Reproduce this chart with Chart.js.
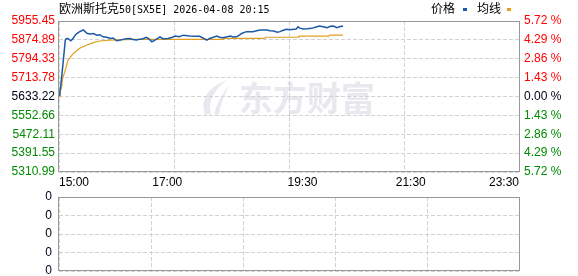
<!DOCTYPE html>
<html><head><meta charset="utf-8">
<script src="https://cdn.jsdelivr.net/npm/chart.js@4.4.1/dist/chart.umd.min.js"></script>
<style>
html,body{margin:0;padding:0;background:#fff;}
#wrap{position:relative;width:578px;height:276px;overflow:hidden;background:#fff;}
#title{position:absolute;left:59px;top:1px;font-size:12px;line-height:14px;white-space:nowrap;color:#000;}
.cjk{font-family:"Noto Sans CJK SC";font-size:12px;}
.mono{font-family:"DejaVu Sans Mono";font-size:10px;}
.lg{position:absolute;top:1px;font-family:"Noto Sans CJK SC";font-size:12px;line-height:14px;color:#000;}
.mk{position:absolute;top:8px;width:4px;height:3px;}
#c1{position:absolute;left:0;top:0;}
#c2{position:absolute;left:0;top:190px;}
</style>
</head><body>
<div id="wrap">
  <canvas id="c1" width="578" height="190"></canvas>
  <canvas id="c2" width="578" height="86"></canvas>
  <div id="title"><span class="cjk">欧洲斯托克</span><span class="mono">50[SX5E] 2026-04-08 20:15</span></div>
  <div class="lg" style="left:431px">价格</div>
  <div class="mk" style="left:463px;background:#1a5aa8"></div>
  <div class="lg" style="left:477px">均线</div>
  <div class="mk" style="left:507px;background:#e0a020"></div>
</div>
<script>
// ---- data ----
const xTickMinutes = [0, 120, 270, 390, 510];
const xTickLabels = ['15:00', '17:00', '19:30', '21:30', '23:30'];
const gridMinutes = [0, 127.5, 255, 382.5, 510];
const prevClose = 5633.22;
const priceTicks = [5310.99, 5391.55, 5472.11, 5552.66, 5633.22, 5713.78, 5794.33, 5874.89, 5955.45];
const pctTicks = ['5.72', '4.29', '2.86', '1.43', '0.00', '1.43', '2.86', '4.29', '5.72'];
const volumeTicks = ['0', '0', '0', '0', '0'];

const priceMinutes = [0,1,3,5,7,8,10,13,15,18,20,23,27,31,34,38,42,45,49,53,57,60,64,68,71,74,79,82,86,90,93,97,100,103,106,112,115,121,125,129,133,138,142,145,151,156,164,167,175,178,182,190,193,197,203,208,215,218,223,230,234,238,242,245,248,252,256,263,265,267,271,275,280,285,289,294,297,302,305,308,312,315];
const priceValues = [5640,5650,5717,5796,5874,5880,5881,5871,5878,5895,5903,5910,5917,5903,5900,5902,5895,5897,5888,5886,5881,5883,5871,5874,5877,5880,5881,5876,5874,5878,5880,5886,5878,5867,5873,5888,5880,5881,5885,5891,5888,5895,5893,5891,5890,5890,5874,5881,5891,5886,5884,5891,5887,5888,5903,5910,5910,5913,5917,5917,5914,5913,5908,5910,5915,5920,5918,5921,5931,5925,5921,5922,5924,5930,5934,5930,5927,5934,5933,5927,5932,5934];

const avgMinutes = [0,1,3,4,7,10,16,23,31,38,45,56,82,182,183,228,229,265,266,299,300,315];
const avgValues = [5632,5650,5674,5710,5746,5789,5817,5839,5853,5863,5870,5874,5877,5877,5881,5881,5886,5886,5891,5891,5895,5895];

// ---- helpers ----
const toPts = (xs, ys) => xs.map((x, i) => ({x: x, y: ys[i]}));
const FONT = {family: '"Liberation Sans", Arial, sans-serif', size: 12};
const GRID = '#d2d2d2';
const FRAME = '#999999';
const RED = '#ff0000', GREEN = '#008a00', DARK = '#00001a';
const colorFor = (v) => v > prevClose + 0.01 ? RED : (v < prevClose - 0.01 ? GREEN : DARK);
const noPad = (s) => { s.paddingTop = 0; s.paddingBottom = 0; };

const framePlugin = {
  id: 'frame',
  afterDraw(chart) {
    const a = chart.chartArea, ctx = chart.ctx;
    ctx.save();
    ctx.strokeStyle = FRAME; ctx.lineWidth = 1; ctx.setLineDash([]);
    ctx.strokeRect(Math.round(a.left) - 0.5, Math.round(a.top) + 0.5, Math.round(a.right - a.left) + 1, Math.round(a.bottom - a.top) - 1);
    ctx.restore();
  }
};

const watermarkPlugin = {
  id: 'wm',
  beforeDraw(chart) {
    const ctx = chart.ctx;
    ctx.save();
    ctx.fillStyle = '#e8e8ee';
    ctx.font = 'bold 34px "Noto Sans CJK SC"';
    ctx.textBaseline = 'middle';
    ctx.fillText('东方财富', 239, 98);
    ctx.beginPath();
    ctx.moveTo(227, 80);
    ctx.quadraticCurveTo(197, 92, 205, 115);
    ctx.lineTo(211, 114);
    ctx.quadraticCurveTo(206, 96, 227, 80);
    ctx.closePath();
    ctx.fill();
    ctx.beginPath();
    ctx.moveTo(230, 84);
    ctx.quadraticCurveTo(217, 100, 214, 115);
    ctx.lineTo(219, 114);
    ctx.quadraticCurveTo(221, 100, 230, 84);
    ctx.closePath();
    ctx.fill();
    ctx.restore();
  }
};

const makeGridAxis = (pos) => ({
  type: 'linear', min: 0, max: 510, position: pos,
  afterBuildTicks: (s) => { s.ticks = gridMinutes.map(v => ({value: v})); },
  afterFit: (s) => { s.height = 0; s.paddingLeft = 0; s.paddingRight = 0; },
  ticks: {display: false},
  grid: {color: GRID, drawTicks: false, lineWidth: 1},
  border: {display: false, dash: [4, 2]}
});

// ---- top chart ----
new Chart(document.getElementById('c1'), {
  type: 'line',
  data: {
    datasets: [
      {label: '价格', data: toPts(priceMinutes, priceValues), borderColor: '#1a5aa8', borderWidth: 1.5, pointRadius: 0, tension: 0, yAxisID: 'y'},
      {label: '均线', data: toPts(avgMinutes, avgValues), borderColor: '#e0a020', borderWidth: 1.2, pointRadius: 0, tension: 0, yAxisID: 'y'}
    ]
  },
  options: {
    responsive: false, animation: false, devicePixelRatio: 1,
    layout: {padding: {top: 21, left: 0, right: 0, bottom: 0}},
    plugins: {legend: {display: false}, tooltip: {enabled: false}},
    scales: {
      x: {
        type: 'linear', min: 0, max: 510, position: 'bottom',
        afterBuildTicks: (s) => { s.ticks = xTickMinutes.map(v => ({value: v})); },
        afterFit: (s) => { s.height = 18; s.paddingLeft = 0; s.paddingRight = 0; },
        ticks: {
          font: FONT, color: '#000', maxRotation: 0, autoSkip: false, align: 'inner', padding: 3,
          callback: (v) => xTickLabels[xTickMinutes.indexOf(v)]
        },
        grid: {display: false, drawTicks: false},
        border: {display: false}
      },
      xg: makeGridAxis('top'),
      y: {
        type: 'linear', position: 'left', min: priceTicks[0], max: priceTicks[priceTicks.length - 1],
        afterBuildTicks: (s) => { s.ticks = priceTicks.map(v => ({value: v})); },
        afterFit: (s) => { s.width = 59; noPad(s); },
        ticks: {font: FONT, padding: 4, autoSkip: false, color: (c) => colorFor(c.tick.value), callback: (v) => v.toFixed(2)},
        grid: {color: GRID, drawTicks: false},
        border: {display: false, dash: [4, 2]}
      },
      y2: {
        type: 'linear', position: 'right', min: priceTicks[0], max: priceTicks[priceTicks.length - 1],
        afterBuildTicks: (s) => { s.ticks = priceTicks.map(v => ({value: v})); },
        afterFit: (s) => { s.width = 59; noPad(s); },
        ticks: {font: FONT, padding: 5, autoSkip: false, color: (c) => colorFor(c.tick.value), callback: (v, i) => pctTicks[i] + ' %'},
        grid: {display: false, drawTicks: false},
        border: {display: false}
      }
    }
  },
  plugins: [watermarkPlugin, framePlugin]
});

// ---- bottom (volume) chart ----
new Chart(document.getElementById('c2'), {
  type: 'bar',
  data: {datasets: [{label: '成交量', data: [], backgroundColor: '#1a5aa8'}]},
  options: {
    responsive: false, animation: false, devicePixelRatio: 1,
    layout: {padding: {top: 7, left: 0, right: 59, bottom: 5}},
    plugins: {legend: {display: false}, tooltip: {enabled: false}},
    scales: {
      x: makeGridAxis('bottom'),
      y: {
        type: 'linear', position: 'left', min: 0, max: 4,
        afterBuildTicks: (s) => { s.ticks = volumeTicks.map((t, i) => ({value: i})); },
        afterFit: (s) => { s.width = 59; noPad(s); },
        ticks: {font: FONT, padding: 7, autoSkip: false, color: DARK, callback: (v, i) => volumeTicks[i]},
        grid: {color: GRID, drawTicks: false},
        border: {display: false, dash: [4, 2]}
      }
    }
  },
  plugins: [framePlugin]
});
</script>
</body></html>
